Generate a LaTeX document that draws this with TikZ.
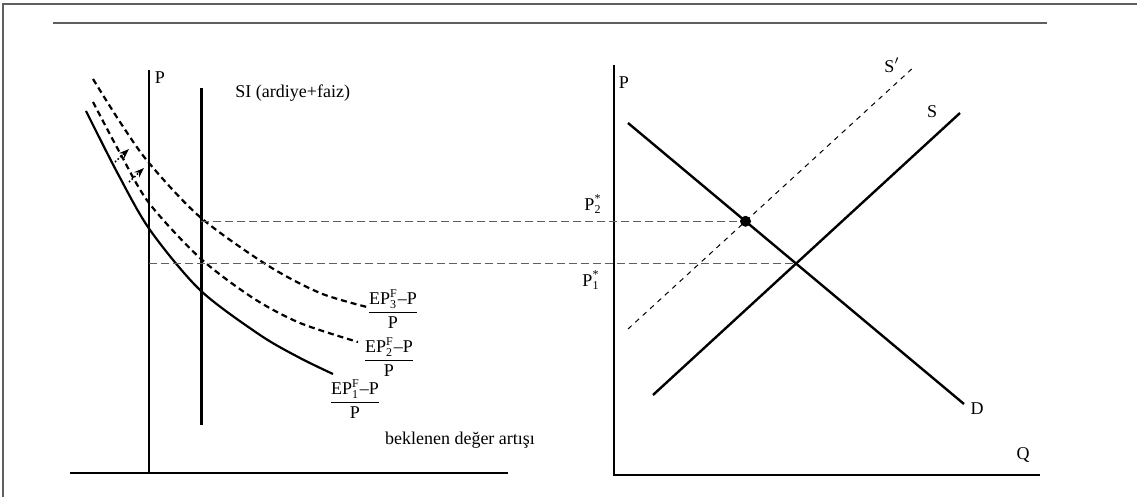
\documentclass[tikz,border=0pt]{standalone}
\usepackage{amsmath}
\usepackage{fontspec}
\setmainfont{Liberation Serif}
\usepackage{tikz}
\usetikzlibrary{positioning,arrows.meta}
\definecolor{rulegray}{RGB}{95,95,95}

\begin{document}
\begin{tikzpicture}[x=0.5pt,y=-0.5pt,every node/.style={font=\fontsize{9}{11}\selectfont,inner sep=0pt},>={Stealth[length=5pt,width=3.6pt]},
    axis/.style={line width=0.55pt},
    curve/.style={line width=1.1pt},
    dcurve/.style={line width=1.1pt,dash pattern=on 3pt off 2pt},
    guide/.style={line width=0.6pt,rulegray,dash pattern=on 4pt off 2pt},
    market/.style={line width=1.2pt}]
    \useasboundingbox (0,0) rectangle (1137,497);
    \draw[rulegray,line width=0.8pt] (1137,4) -- (3,4) -- (3,497);
    \draw[rulegray,line width=1.4pt] (53,23) -- (1047,23);

    \coordinate (pt) at (149,70);
    \coordinate (po) at (149,473);
    \coordinate (bl) at (70,473);
    \coordinate (br) at (508,473);
    \draw[axis] (pt) -- (po);
    \draw[axis] (bl) -- (br);
    \node (pl) at (160,78) {P};
    \coordinate (sit) at (201,88);
    \coordinate (sib) at (201,425);
    \draw[line width=1.5pt] (sit) -- (sib);
    \node[anchor=west] (sil) at (235,93) {SI (ardiye+faiz)};
    \node (bk) at (460,440) {beklenen değer artışı};

    \draw[curve] plot[smooth] coordinates {(86,111) (118,174) (150,230) (200,290) (260,335) (300,358) (333,374)};
    \draw[dcurve] plot[smooth] coordinates {(93,102) (120,153) (149,203) (200,258) (253,298) (300,323) (358,342)};
    \draw[dcurve] plot[smooth] coordinates {(93,79) (120,122) (149,163) (200,217) (267,265) (320,293) (367,307)};
    \coordinate (a1s) at (115,162);
    \coordinate (a1e) at (129,149);
    \coordinate (a2s) at (129,182);
    \coordinate (a2e) at (144,168);
    \draw[->,densely dotted,line width=0.8pt] (a1s) -- (a1e);
    \draw[->,densely dotted,line width=0.8pt] (a2s) -- (a2e);
    \node (f1) at (355,399) {$\dfrac{\text{EP}^{\text{F}}_{\text{1}}\text{–P}}{\text{P}}$};
    \node (f2) at (389,357) {$\dfrac{\text{EP}^{\text{F}}_{\text{2}}\text{–P}}{\text{P}}$};
    \node (f3) at (393,309) {$\dfrac{\text{EP}^{\text{F}}_{\text{3}}\text{–P}}{\text{P}}$};

    \coordinate (qt) at (614,65);
    \coordinate (qo) at (614,475);
    \coordinate (qr) at (1040,475);
    \draw[axis] (qt) -- (qo) -- (qr);
    \node (ql) at (624,83) {P};
    \node (qq) at (1023,455) {Q};
    \coordinate (d1) at (628,123);
    \coordinate (d2) at (964,404);
    \coordinate (s1) at (653,395);
    \coordinate (s2) at (960,113);
    \coordinate (t1) at (628,329);
    \coordinate (t2) at (915,66);
    \draw[market] (d1) -- (d2);
    \draw[market] (s1) -- (s2);
    \draw[line width=0.5pt,dash pattern=on 2.5pt off 2.5pt] (t1) -- (t2);
    \node (dl) at (977,409) {D};
    \node (sl) at (932,112) {S};
    \node (tl) at (892,65) {S$'$};
    \coordinate (e1) at (intersection of d1--d2 and s1--s2);
    \coordinate (e2) at (intersection of d1--d2 and t1--t2);
    \draw[guide] (pt |- e1) -- (e1);
    \draw[guide] (sit |- e2) -- (e2);
    \node[circle,fill,minimum size=5.5pt] (dot) at (e2) {};
    \node (p2) at (593,204) {P$^{\text{*}}_{\text{2}}$};
    \node (p1) at (591,280) {P$^{\text{*}}_{\text{1}}$};
  \end{tikzpicture}
\end{document}
